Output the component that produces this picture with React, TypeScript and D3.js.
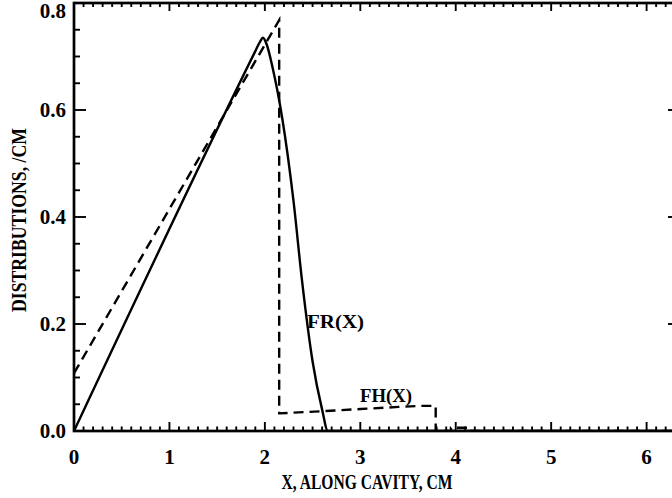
import React from "react";
import * as d3 from "d3";

const xTicks = [0, 1, 2, 3, 4, 5, 6];
const yTicks = [0.0, 0.2, 0.4, 0.6, 0.8];

const frX = [0, 1.9, 1.95, 1.98, 2.02, 2.08, 2.18, 2.3, 2.39, 2.5, 2.6, 2.66, 4.0, 6.35];
const frY = [0, 0.71, 0.728, 0.735, 0.722, 0.68, 0.587, 0.43, 0.28, 0.13, 0.04, 0.0, 0.0, 0.0];

const fhX = [0, 2.15, 2.15, 2.6, 3.0, 3.4, 3.65, 3.79, 3.79, 3.95, 3.95, 4.15, 4.15, 6.35];
const fhY = [0.108, 0.768, 0.033, 0.037, 0.041, 0.045, 0.047, 0.047, 0.0, 0.0, 0.006, 0.006, 0.0, 0.0];

const W = 672, H = 498;
const left = 74, right = 680, top = 3, bottom = 431;
const xMax = 6.35;

export default function App() {
  const x = d3.scaleLinear().domain([0, xMax]).range([left, right]);
  const y = d3.scaleLinear().domain([0, 0.8]).range([bottom, top]);
  const line = d3.line<[number, number]>().x(d => x(d[0])).y(d => y(d[1]));
  const frPts = frX.map((v, i) => [v, frY[i]] as [number, number]);
  const fhPts = fhX.map((v, i) => [v, fhY[i]] as [number, number]);
  const frPath = d3.line<[number, number]>().x(d => x(d[0])).y(d => y(d[1])).curve(d3.curveMonotoneX)(frPts) || "";
  const fhPath = line(fhPts) || "";

  const xMinor = d3.range(0, xMax + 0.001, 0.1).map(v => Math.round(v * 10) / 10);
  const yMinor = d3.range(0, 0.8001, 0.05).map(v => Math.round(v * 100) / 100);
  const font = "'Liberation Serif', serif";
  const isMajorX = (v: number) => Math.abs(v - Math.round(v)) < 1e-6;
  const isMajorY = (v: number) => Math.abs(v * 5 - Math.round(v * 5)) < 1e-6;

  return (
    <svg width={W} height={H} style={{ position: "absolute", left: 0, top: 0, background: "#fff" }}>
      <rect x={0} y={0} width={W} height={H} fill="#fff" />
      <defs>
        <clipPath id="c">
          <rect x={left} y={top - 2} width={right - left} height={bottom - top + 3} />
        </clipPath>
      </defs>
      <g clipPath="url(#c)">
        <path d={frPath} fill="none" stroke="#000" strokeWidth={2.4} strokeLinejoin="round" />
        <path d={fhPath} fill="none" stroke="#000" strokeWidth={2.4} strokeDasharray="10,6" />
      </g>
      <rect x={left} y={top} width={right - left} height={bottom - top} fill="none" stroke="#000" strokeWidth={2.7} />
      {xMinor.map((v, i) => {
        const major = isMajorX(v);
        return (
          <g key={"xt" + i}>
            <line x1={x(v)} x2={x(v)} y1={bottom} y2={bottom - (major ? 9 : 4.5)} stroke="#000" strokeWidth={1.9} />
            <line x1={x(v)} x2={x(v)} y1={top} y2={top + (major ? 8 : 4)} stroke="#000" strokeWidth={1.9} />
          </g>
        );
      })}
      {yMinor.map((v, i) => {
        const major = isMajorY(v);
        return (
          <g key={"yt" + i}>
            <line x1={left} x2={left + (major ? 12 : 6)} y1={y(v)} y2={y(v)} stroke="#000" strokeWidth={1.9} />
            <line x1={right} x2={right - (major ? 12 : 6)} y1={y(v)} y2={y(v)} stroke="#000" strokeWidth={1.9} />
          </g>
        );
      })}
      {xTicks.map(v => (
        <text key={"xl" + v} x={x(v)} y={464} textAnchor="middle" fontFamily={font} fontWeight="bold" fontSize={21}>{v}</text>
      ))}
      {yTicks.map(v => (
        <text key={"yl" + v} x={66} y={v === 0.8 ? 18 : y(v) + 7} textAnchor="end" fontFamily={font} fontWeight="bold" fontSize={21}>{v.toFixed(1)}</text>
      ))}
      <text x={367} y={489} textAnchor="middle" fontFamily={font} fontWeight="bold" fontSize={20} textLength={171} lengthAdjust="spacingAndGlyphs">X, ALONG CAVITY, CM</text>
      <text transform="translate(26,220) rotate(-90)" textAnchor="middle" fontFamily={font} fontWeight="bold" fontSize={20} textLength={184} lengthAdjust="spacingAndGlyphs">DISTRIBUTIONS, /CM</text>
      <text x={307} y={328} fontFamily={font} fontWeight="bold" fontSize={19} textLength={57} lengthAdjust="spacingAndGlyphs">FR(X)</text>
      <text x={360} y={402} fontFamily={font} fontWeight="bold" fontSize={19} textLength={52} lengthAdjust="spacingAndGlyphs">FH(X)</text>
    </svg>
  );
}
